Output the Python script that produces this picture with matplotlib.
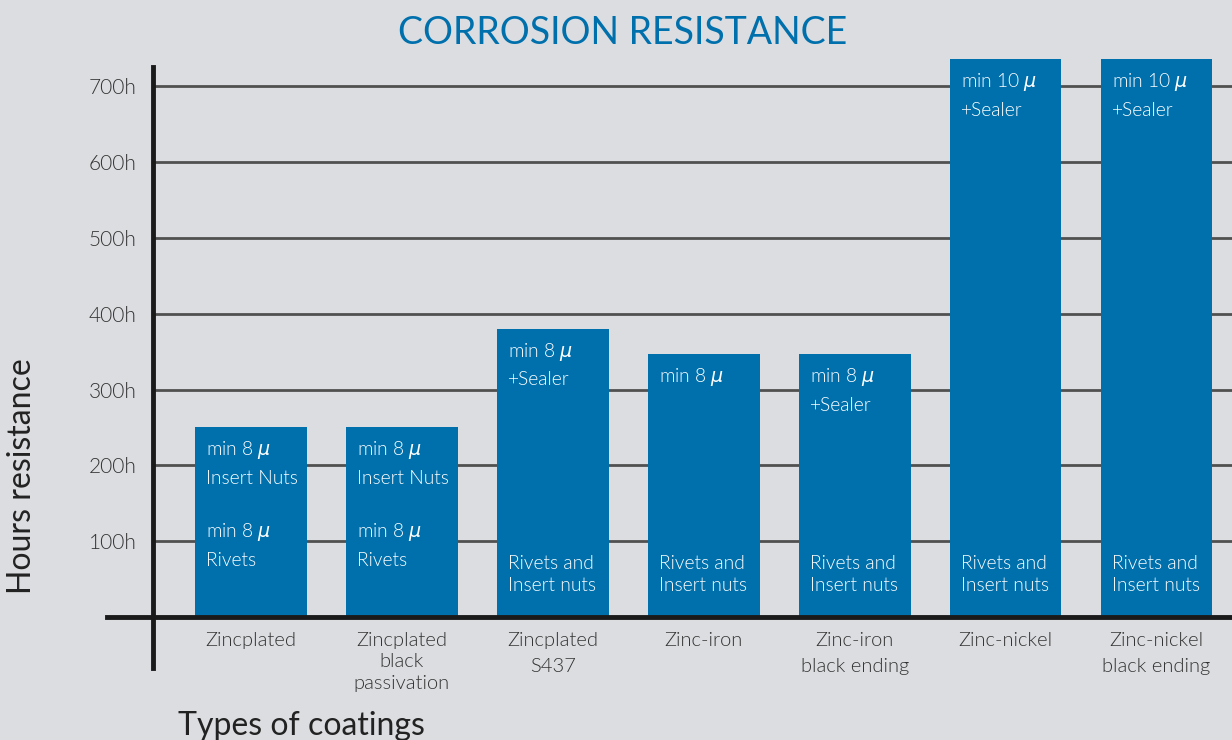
import numpy as np
import matplotlib
matplotlib.use("Agg")
import matplotlib.pyplot as plt

# coatings and their salt-spray hours
categories = ["Zincplated", "Zincplated\nblack\npassivation", "Zincplated\nS437",
              "Zinc-iron", "Zinc-iron\nblack ending", "Zinc-nickel",
              "Zinc-nickel\nblack ending"]
hours = [250, 250, 380, 347, 347, 735, 735]
top_notes = ["min 8 $\\mu$\nInsert Nuts", "min 8 $\\mu$\nInsert Nuts",
             "min 8 $\\mu$\n+Sealer", "min 8 $\\mu$", "min 8 $\\mu$\n+Sealer",
             "min 10 $\\mu$\n+Sealer", "min 10 $\\mu$\n+Sealer"]
bottom_notes = ["min 8 $\\mu$\nRivets", "min 8 $\\mu$\nRivets",
                "Rivets and\nInsert nuts", "Rivets and\nInsert nuts",
                "Rivets and\nInsert nuts", "Rivets and\nInsert nuts",
                "Rivets and\nInsert nuts"]
yticks = [100, 200, 300, 400, 500, 600, 700]
ytick_labels = ["100h", "200h", "300h", "400h", "500h", "600h", "700h"]

bg = "#dcdde0"
blue = "#0070ad"
plt.rcParams["font.family"] = ["Lato", "DejaVu Sans"]
plt.rcParams["mathtext.fontset"] = "dejavusans"
thin = 300

fig = plt.figure(figsize=(12.32, 7.40), dpi=100, facecolor=bg)
W, H = 1232, 740
ax = fig.add_axes([153 / W, 1 - 668 / H, 1 - 153 / W, (668 - 67) / H])
ax.set_facecolor(bg)

x = np.arange(len(categories))
width = 0.74
ax.set_xlim(-0.649, 6.5)
ax.set_ylim(-67, 725)

for y in yticks:
    ax.axhline(y, color="#505050", lw=2, zorder=1)

ax.bar(x, hours, width=width, color=blue, zorder=2, clip_on=False)

# baseline sticks out left of the vertical axis
ax.axhline(0, xmin=-46 / 1079, xmax=1, color="#1a1a1a", lw=3.5, zorder=3,
           clip_on=False)

for i in range(len(categories)):
    left = x[i] - width / 2
    ax.annotate(top_notes[i], xy=(left, hours[i]), xytext=(11, -12),
                textcoords="offset pixels", ha="left", va="top",
                color="white", fontsize=13.8, fontweight=thin,
                linespacing=1.62, zorder=4, annotation_clip=False)
    if i < 2:
        ax.annotate(bottom_notes[i], xy=(left, 0), xytext=(11, 48),
                    textcoords="offset pixels", ha="left", va="bottom",
                    color="white", fontsize=13.8, fontweight=thin,
                    linespacing=1.62, zorder=4)
    else:
        ax.annotate(bottom_notes[i], xy=(left, 0), xytext=(11, 23),
                    textcoords="offset pixels", ha="left", va="bottom",
                    color="white", fontsize=13.8, fontweight=thin,
                    linespacing=1.35, zorder=4)
    # category name under the baseline; three-line names sit tighter
    n_lines = categories[i].count("\n") + 1
    ax.annotate(categories[i], xy=(x[i], 0), xytext=(0, -15),
                textcoords="offset pixels", ha="center", va="top",
                color="#333333", fontsize=14.5, fontweight=thin,
                linespacing=1.3 if n_lines > 2 else 1.62,
                annotation_clip=False)

ax.set_xticks([])
ax.set_yticks(yticks)
ax.set_yticklabels(ytick_labels, fontsize=15, color="#333333",
                   fontweight=thin)
ax.tick_params(axis="y", length=0, pad=12)

for s in ["top", "right", "bottom"]:
    ax.spines[s].set_visible(False)
ax.spines["left"].set_color("#1a1a1a")
ax.spines["left"].set_linewidth(3.5)
ax.spines["left"].set_zorder(5)

fig.text(623 / W, 1 - 33 / H, "CORROSION RESISTANCE", color=blue,
         fontsize=27, ha="center", va="center")
fig.text(22 / W, 1 - 476 / H, "Hours resistance", color="#222222",
         fontsize=23, rotation=90, ha="center", va="center")
fig.text(178 / W, 1 - 735 / H, "Types of coatings", color="#222222",
         fontsize=23, ha="left", va="baseline")

fig.savefig("out.png", dpi=100, facecolor=bg)
